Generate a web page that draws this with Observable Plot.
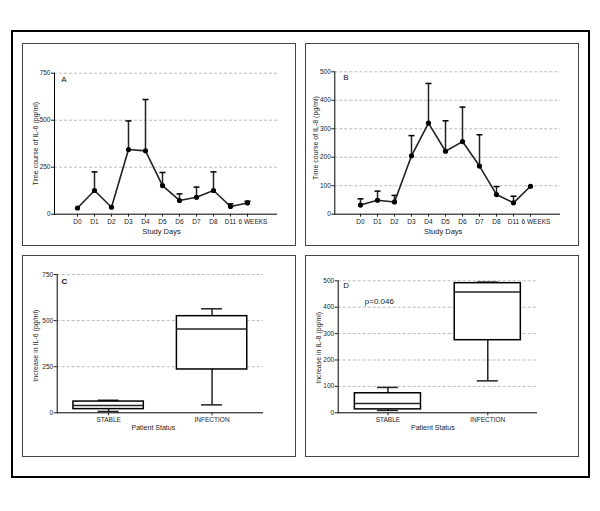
<!DOCTYPE html>
<html>
<head>
<meta charset="utf-8">
<script src="https://cdn.jsdelivr.net/npm/d3@7"></script>
<script src="https://cdn.jsdelivr.net/npm/@observablehq/plot@0.6"></script>
<style>
  body { margin: 0; background: #fff; width: 600px; height: 511px; position: relative; overflow: hidden; }
  .outer { position: absolute; left: 11px; top: 30px; width: 579px; height: 448px; border: 2px solid #000; box-sizing: border-box; }
  .pbox { position: absolute; border: 1.5px solid #444; box-sizing: border-box; pointer-events: none; }
  .pwrap { position: absolute; }
  .pwrap svg { overflow: visible; }
</style>
</head>
<body>
<div class="outer"></div>
<script>
// ---- data ----
const days = ["D0","D1","D2","D3","D4","D5","D6","D7","D8","D11","6 WEEKS"];
const il6Mean  = [33, 126, 37, 344, 337, 152, 73, 90, 126, 41, 60];
const il6Upper = [null, 225, null, 496, 610, 222, 108, 144, 225, 55, 69];
const il8Mean  = [32, 49, 43, 205, 320, 221, 255, 169, 69, 40, 98];
const il8Upper = [54, 81, 66, 276, 459, 328, 376, 279, 97, 63, null];
const il6Ticks = [0, 250, 500, 750];
const il8Ticks = [0, 100, 200, 300, 400, 500];

const groups = ["STABLE", "INFECTION"];
const il6Min = [7, 43],  il6Q1 = [20, 235], il6Med = [40, 455], il6Q3 = [61, 524], il6Max = [68, 564];
const il8Min = [9, 121], il8Q1 = [13, 275], il8Med = [35, 458], il8Q3 = [74, 491], il8Max = [96, 495];

const FONT = "'Liberation Sans', Arial, Helvetica, sans-serif";

// horizontal-line symbol for error-bar caps (half-width = r)
const capSymbol = {draw(ctx, size) { const w = Math.sqrt(size / Math.PI); ctx.moveTo(-w, 0); ctx.lineTo(w, 0); }};

function mount(plot, left, top, w, h) {
  const wrap = document.createElement("div");
  wrap.className = "pwrap";
  wrap.style.left = left + "px"; wrap.style.top = top + "px";
  wrap.appendChild(plot);
  document.body.appendChild(wrap);
  const box = document.createElement("div");
  box.className = "pbox";
  box.style.left = left + "px"; box.style.top = top + "px";
  box.style.width = w + "px"; box.style.height = h + "px";
  document.body.appendChild(box);
}

function timePanel(o) {
  const rows = days.map((d, i) => ({day: d, mean: o.mean[i], upper: o.upper[i]}));
  const err = rows.filter(d => d.upper != null);
  const grid = o.ticks.filter(t => t > 0);
  const last = days[days.length - 1];
  return Plot.plot({
    width: 274, height: 203,
    marginLeft: o.ml, marginRight: 19, marginTop: o.mt, marginBottom: 32.3,
    style: {fontFamily: FONT, fontSize: "6.5px", color: "#222", background: "transparent"},
    x: {type: "point", domain: days, range: o.xr},
    y: {domain: [0, o.ticks[o.ticks.length - 1]]},
    marks: [
      Plot.gridY(grid, {stroke: "#bbb", strokeOpacity: 1, strokeDasharray: "3,2"}),
      Plot.frame({anchor: "left", stroke: "#000"}),
      Plot.ruleY([0], {stroke: "#000"}),
      Plot.axisY(o.ticks, {tickSize: 3, tickPadding: 1, label: null}),
      Plot.axisX(days, {tickSize: 3, tickPadding: 2, label: null, tickFormat: d => d === last ? "" : d}),
      Plot.axisX([last], {tickSize: 0, tickPadding: 5, label: null, dx: 5.5}),
      Plot.ruleX(err, {x: "day", y1: "mean", y2: "upper", strokeWidth: 1.5}),
      Plot.dot(err, {x: "day", y: "upper", symbol: capSymbol, r: 3, stroke: "#000", strokeWidth: 1.5, fill: "none"}),
      Plot.line(rows, {x: "day", y: "mean", strokeWidth: 1.6}),
      Plot.dot(rows, {x: "day", y: "mean", r: 2.6, fill: "#000", stroke: "none"}),
      Plot.text([o.letter], {frameAnchor: "top-left", textAnchor: "start", lineAnchor: "top", dx: o.ldx, dy: o.ldy, fontSize: 8, fill: "#111"}),
      Plot.text([o.ylabel], {frameAnchor: "left", textAnchor: "middle", lineAnchor: "middle", rotate: -90, dx: o.yx - o.ml, dy: o.ydy, fontSize: 7}),
      Plot.text(["Study Days"], {frameAnchor: "bottom", textAnchor: "middle", lineAnchor: "middle", dx: -4.5, dy: 17.3, fontSize: 7.5})
    ]
  });
}

function boxPanel(o) {
  const rows = groups.map((g, i) => ({g, min: o.min[i], q1: o.q1[i], med: o.med[i], q3: o.q3[i], max: o.max[i]}));
  const grid = o.ticks.filter(t => t > 0);
  const step = (274 - o.ml - o.mr) / (2 - o.pi + 2 * o.po);
  const bw = step * (1 - o.pi);
  const marks = [
    Plot.gridY(grid, {stroke: "#bbb", strokeOpacity: 1, strokeDasharray: "3,2"}),
    Plot.frame({anchor: "left", stroke: "#000"}),
    Plot.ruleY([0], {stroke: "#000"}),
    Plot.axisY(o.ticks, {tickSize: 3, tickPadding: 1, label: null}),
    Plot.axisX({tickSize: 3, tickPadding: 2, label: null}),
    Plot.ruleX(rows, {x: "g", y1: "q3", y2: "max", strokeWidth: 1.5}),
    Plot.ruleX(rows, {x: "g", y1: "min", y2: "q1", strokeWidth: 1.5}),
    Plot.tickY(rows, {x: "g", y: "max", inset: bw / 2 - 10.5, strokeWidth: 1.5}),
    Plot.tickY(rows, {x: "g", y: "min", inset: bw / 2 - 10.5, strokeWidth: 1.5}),
    Plot.barY(rows, {x: "g", y1: "q1", y2: "q3", fill: "#fff", stroke: "#000", strokeWidth: 1.5}),
    Plot.tickY(rows, {x: "g", y: "med", strokeWidth: 1.5}),
    Plot.text([o.letter], {frameAnchor: "top-left", textAnchor: "start", lineAnchor: "top", dx: o.ldx, dy: o.ldy, fontSize: 8, fontWeight: o.bold ? "bold" : "normal", fill: "#111"}),
    Plot.text([o.ylabel], {frameAnchor: "left", textAnchor: "middle", lineAnchor: "middle", rotate: -90, dx: 13 - o.ml, dy: o.ydy, fontSize: 7}),
    Plot.text(["Patient Status"], {frameAnchor: "bottom", textAnchor: "middle", lineAnchor: "middle", dx: o.xdx, dy: 15.4, fontSize: 7})
  ];
  if (o.note) marks.push(Plot.text([o.note], {frameAnchor: "top-left", textAnchor: "start", lineAnchor: "middle", dx: o.ndx, dy: o.ndy, fontSize: 8}));
  return Plot.plot({
    width: 274, height: 202,
    marginLeft: o.ml, marginRight: o.mr, marginTop: o.mt, marginBottom: 44.7,
    style: {fontFamily: FONT, fontSize: "6.5px", color: "#222", background: "transparent"},
    x: {type: "band", domain: groups, paddingInner: o.pi, paddingOuter: o.po, round: false},
    y: {domain: [0, o.ticks[o.ticks.length - 1]]},
    marks
  });
}

mount(timePanel({mean: il6Mean, upper: il6Upper, ticks: il6Ticks, ml: 32, mt: 29.7, xr: [43.7, 236],
  letter: "A", ldx: 6.7, ldy: 3.5, ylabel: "Time course of IL-6 (pg/ml)", yx: 13, ydy: 0}), 22, 43, 274, 203);
mount(timePanel({mean: il8Mean, upper: il8Upper, ticks: il8Ticks, ml: 29.3, mt: 28.3, xr: [42.7, 236.7],
  letter: "B", ldx: 8.4, ldy: 3, ylabel: "Time course of IL-8 (pg/ml)", yx: 10, ydy: -5}), 305, 43, 274, 203);
mount(boxPanel({min: il6Min, q1: il6Q1, med: il6Med, q3: il6Q3, max: il6Max, ticks: il6Ticks,
  ml: 34.7, mr: 33, mt: 19, pi: 0.32, po: 0.157,
  letter: "C", bold: true, ldx: 4.3, ldy: 4, ylabel: "Increase in IL-6 (pg/ml)", ydy: 2, xdx: -7}), 22, 255, 274, 202);
mount(boxPanel({min: il8Min, q1: il8Q1, med: il8Med, q3: il8Q3, max: il8Max, ticks: il8Ticks,
  ml: 32.7, mr: 42, mt: 25.3, pi: 0.338, po: 0.167,
  letter: "D", bold: false, ldx: 5, ldy: 2, ylabel: "Increase in IL-8 (pg/ml)", ydy: 1, xdx: -5,
  note: "p=0.046", ndx: 26.6, ndy: 20.7}), 305, 255, 274, 202);
</script>
</body>
</html>
